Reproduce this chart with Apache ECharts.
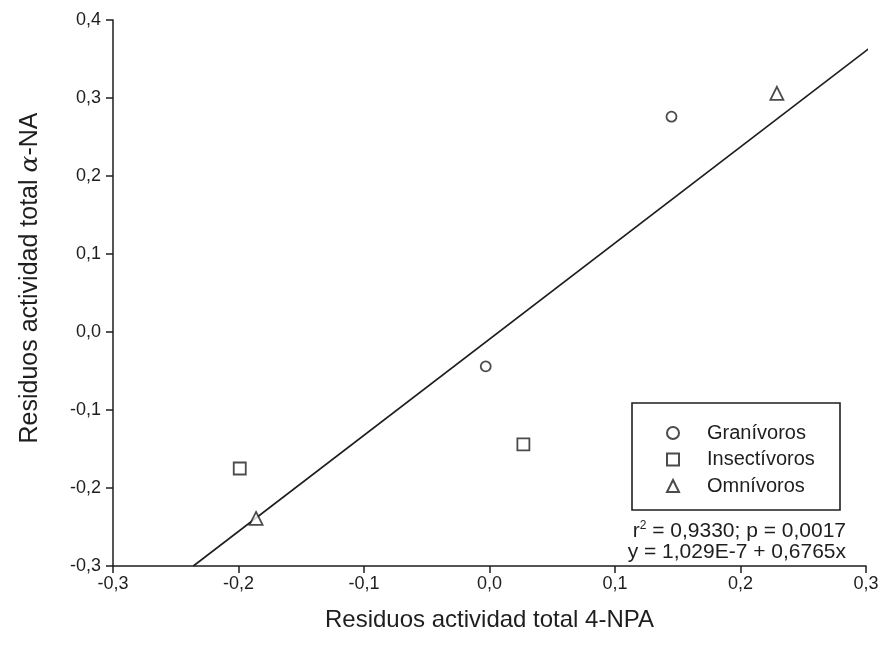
<!DOCTYPE html>
<html>
<head>
<meta charset="utf-8">
<script src="https://cdn.jsdelivr.net/npm/echarts@6/dist/echarts.min.js"></script>
<style>html,body{margin:0;padding:0;background:#fff}#c{width:882px;height:661px}</style>
</head>
<body>
<div id="c"></div>
<script>
// Data
const seriesNames = ['Granívoros', 'Insectívoros', 'Omnívoros'];
const granivorosX = [0.145, -0.003];
const granivorosY = [0.276, -0.044];
const insectivorosX = [-0.199, 0.027];
const insectivorosY = [-0.175, -0.144];
const omnivorosX = [-0.186, 0.229];
const omnivorosY = [-0.239, 0.306];
// Regression line as drawn in the figure
const regLineX = [-0.236, 0.31];
const regLineY = [-0.3, 0.373];
const statLine2 = 'y = 1,029E-7 + 0,6765x';

const zip = (xs, ys) => xs.map((x, i) => [x, ys[i]]);
const fmt = v => v.toFixed(1).replace('.', ',');
const FONT = "'Liberation Sans', Arial, sans-serif";
const INK = '#1e1e1e';

const chart = echarts.init(document.getElementById('c'));
const markerStyle = { color: '#fff', borderColor: INK, borderWidth: 1.8 };

chart.setOption({
  animation: false,
  backgroundColor: '#fff',
  grid: { left: 113, right: 16, top: 20, bottom: 95, containLabel: false },
  xAxis: {
    type: 'value', min: -0.3, max: 0.3, interval: 0.1,
    name: 'Residuos actividad total 4-NPA',
    nameLocation: 'middle', nameGap: 42,
    nameTextStyle: { fontFamily: FONT, fontSize: 24, color: INK },
    axisLine: { show: true, onZero: false, lineStyle: { color: INK, width: 1.5 } },
    axisTick: { show: true, length: 7, lineStyle: { color: INK, width: 1.5 } },
    axisLabel: { formatter: fmt, fontFamily: FONT, fontSize: 18, color: INK, margin: 9 },
    splitLine: { show: false }
  },
  yAxis: {
    type: 'value', min: -0.3, max: 0.4, interval: 0.1,
    name: '{a|Residuos actividad total }{b|α}{a|-NA}',
    nameLocation: 'middle', nameGap: 70, nameRotate: 90,
    nameTextStyle: {
      padding: [0, 0, 0, 30],
      rich: {
        a: { fontFamily: FONT, fontSize: 25, color: INK },
        b: { fontFamily: "'DejaVu Serif', 'Liberation Serif', serif", fontStyle: 'italic', fontSize: 25, color: INK }
      }
    },
    axisLine: { show: true, onZero: false, lineStyle: { color: INK, width: 1.5 } },
    axisTick: { show: true, length: 7, lineStyle: { color: INK, width: 1.5 } },
    axisLabel: { formatter: fmt, fontFamily: FONT, fontSize: 18, color: INK, margin: 12 },
    splitLine: { show: false }
  },
  legend: {
    orient: 'vertical', left: 666, top: 423,
    data: seriesNames,
    itemWidth: 12, itemHeight: 12, itemGap: 6.5,
    padding: 0,
    textStyle: { fontFamily: FONT, fontSize: 20, color: INK, lineHeight: 20, padding: [0, 0, 0, 23] },
    selectedMode: false
  },
  graphic: [
    { type: 'rect', shape: { x: 632, y: 403, width: 208, height: 107 },
      style: { fill: 'none', stroke: INK, lineWidth: 1.6 }, z: 100 },
    { type: 'text', right: 36, top: 520,
      style: { text: '{t|r}{s|2}{t| = 0,9330; p = 0,0017}',
        rich: { t: { fontFamily: FONT, fontSize: 21, fill: INK },
                s: { fontFamily: FONT, fontSize: 12, fill: INK, verticalAlign: 'top', padding: [0, 0, 10, 0] } } }, z: 100 },
    { type: 'text', right: 36, top: 542,
      style: { text: statLine2, fontFamily: FONT, fontSize: 21, fill: INK }, z: 100 }
  ],
  series: [
    { name: seriesNames[0], type: 'scatter', symbol: 'circle', symbolSize: 10,
      itemStyle: markerStyle, data: zip(granivorosX, granivorosY), z: 3 },
    { name: seriesNames[1], type: 'scatter', symbol: 'rect', symbolSize: 12,
      itemStyle: markerStyle, data: zip(insectivorosX, insectivorosY), z: 3 },
    { name: seriesNames[2], type: 'scatter', symbol: 'triangle', symbolSize: 13,
      itemStyle: markerStyle, data: zip(omnivorosX, omnivorosY), z: 3 },
    { name: 'regresion', type: 'line', data: zip(regLineX, regLineY), symbol: 'none',
      lineStyle: { color: INK, width: 1.6 }, clip: false, z: 2, silent: true }
  ]
});
</script>
</body>
</html>
